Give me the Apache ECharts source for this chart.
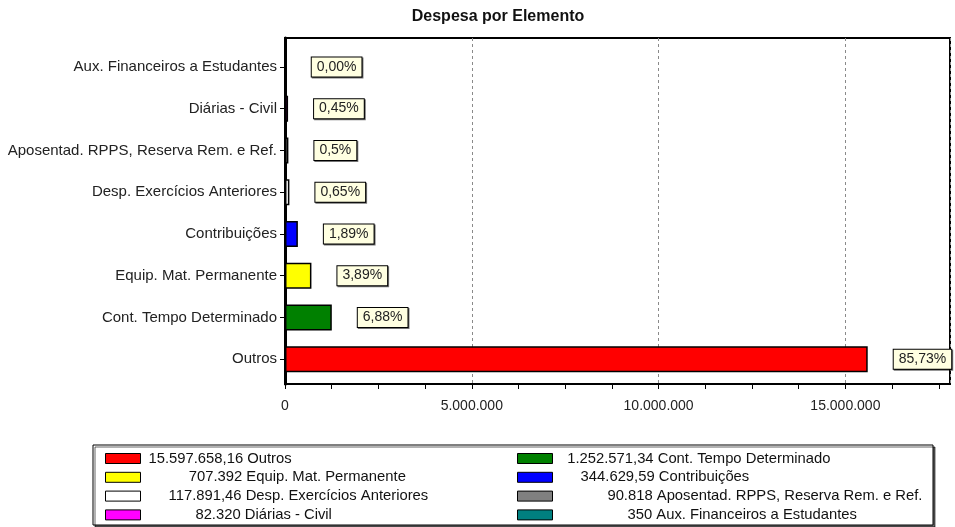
<!DOCTYPE html>
<html>
<head>
<meta charset="utf-8">
<script src="https://cdn.jsdelivr.net/npm/echarts@6/dist/echarts.min.js"></script>
<style>
  html, body { margin: 0; padding: 0; background: #fff; }
  #chart { width: 955px; height: 527px; }
</style>
</head>
<body>
<div id="chart"></div>
<script>
// Expense elements, listed bottom to top on the category axis
const categories = [
  'Outros',
  'Cont. Tempo Determinado',
  'Equip. Mat. Permanente',
  'Contribuições',
  'Desp. Exercícios Anteriores',
  'Aposentad. RPPS, Reserva Rem. e Ref.',
  'Diárias - Civil',
  'Aux. Financeiros a Estudantes'
];
const values = [15597658.16, 1252571.34, 707392, 344629.59, 117891.46, 90818, 82320, 350];
const percentLabels = ['85,73%', '6,88%', '3,89%', '1,89%', '0,65%', '0,5%', '0,45%', '0,00%'];
const colors = ['#ff0000', '#008000', '#ffff00', '#0000ff', '#ffffff', '#808080', '#ff00ff', '#008080'];
const legendLeft = ['Outros', 'Equip. Mat. Permanente', 'Desp. Exercícios Anteriores', 'Diárias - Civil'];
const legendRight = ['Cont. Tempo Determinado', 'Contribuições', 'Aposentad. RPPS, Reserva Rem. e Ref.', 'Aux. Financeiros a Estudantes'];
const axisMax = 17800000;

const FONT = 'Liberation Sans, Arial, sans-serif';
const LEGEND_FONT_SIZE = 14.8;
const VALUE_FIELD = 13;     // legend amounts are padded to this many characters
const PAD_STEP = 6.7;       // width of one padding slot in the legend

// Brazilian number format: 1.234.567,89 (decimals dropped when zero)
function fmtBR(v) {
  const parts = (Math.round(v * 100) / 100).toFixed(2).split('.');
  const intPart = parts[0].replace(/\B(?=(\d{3})+(?!\d))/g, '.');
  return parts[1] === '00' ? intPart : intPart + ',' + parts[1];
}

// rich-text padding tokens p0..p13 for the fixed-width amount field
const padRich = {};
for (let n = 0; n <= VALUE_FIELD; n++) {
  padRich['p' + n] = { width: 3 + n * PAD_STEP, fontFamily: FONT, fontSize: LEGEND_FONT_SIZE };
}

// one stacked series per element so each gets its own colour and legend entry
const series = categories.map((name, i) => ({
  name: name,
  type: 'bar',
  xAxisIndex: 1,
  yAxisIndex: 1,
  stack: 'total',
  barWidth: 26,
  data: categories.map((_, j) => (j === i ? values[i] : '-')),
  itemStyle: { color: colors[i], borderColor: '#000', borderWidth: 1.5 },
  label: {
    show: true,
    position: 'right',
    distance: 26,
    formatter: () => percentLabels[i],
    fontFamily: FONT,
    fontSize: 14,
    color: '#222',
    backgroundColor: '#ffffe1',
    borderColor: '#000',
    borderWidth: 1,
    padding: [2, 5, 2, 5],
    lineHeight: 15,
    shadowColor: 'rgba(0,0,0,0.55)',
    shadowOffsetX: 1,
    shadowOffsetY: 1,
    shadowBlur: 0
  },
  emphasis: { disabled: true },
  animation: false
}));

const legendCommon = {
  orient: 'vertical',
  top: 451,
  padding: 0,
  itemWidth: 35,
  itemHeight: 10,
  itemGap: 3.8,
  icon: 'rect',
  selectedMode: false,
  itemStyle: { borderColor: '#000', borderWidth: 1 },
  formatter: name => {
    const txt = fmtBR(values[categories.indexOf(name)]);
    const pad = Math.max(0, VALUE_FIELD - txt.length);
    return '{p' + pad + '| }' + txt + ' ' + name;
  },
  textStyle: {
    fontFamily: FONT,
    fontSize: LEGEND_FONT_SIZE,
    color: '#111',
    lineHeight: 14,
    rich: padRich
  }
};

const option = {
  backgroundColor: '#fff',
  animation: false,
  title: {
    text: 'Despesa por Elemento',
    left: 498,
    top: 9,
    textAlign: 'center',
    padding: 0,
    textStyle: { fontFamily: FONT, fontSize: 16, fontWeight: 'bold', color: '#111' }
  },
  graphic: [{
    type: 'rect',
    z: 0,
    shape: { x: 93, y: 445, width: 840, height: 80 },
    style: {
      fill: '#fff', stroke: '#000', lineWidth: 1,
      shadowColor: 'rgba(0,0,0,0.6)', shadowOffsetX: 2, shadowOffsetY: 2, shadowBlur: 0
    }
  }],
  legend: [
    Object.assign({}, legendCommon, { left: 105, data: legendLeft }),
    Object.assign({}, legendCommon, { left: 517, data: legendRight })
  ],
  grid: [
    // outer frame, value axis and gridlines
    { left: 285, right: 5, top: 38, bottom: 143, show: true, borderColor: '#000', borderWidth: 2, backgroundColor: '#fff' },
    // category band area for the bars
    { left: 285, right: 5, top: 46, bottom: 147 }
  ],
  xAxis: [
    {
      gridIndex: 0,
      type: 'value',
      min: 0,
      max: axisMax,
      interval: 1250000,
      axisLine: { show: true, onZero: false, lineStyle: { color: '#000', width: 2 } },
      axisTick: { show: true, length: 5, lineStyle: { color: '#000', width: 1 } },
      axisLabel: {
        margin: 15,
        fontFamily: FONT,
        fontSize: 14,
        color: '#222',
        showMaxLabel: false,
        formatter: v => (v % 5000000 === 0 ? fmtBR(v) : '')
      },
      splitLine: { show: false }
    },
    {
      gridIndex: 1,
      type: 'value',
      min: 0,
      max: axisMax,
      show: false
    },
    {
      gridIndex: 0,
      type: 'value',
      position: 'top',
      min: 0,
      max: axisMax,
      interval: 5000000,
      axisLine: { show: false },
      axisTick: { show: false },
      axisLabel: { show: false },
      splitLine: { show: true, lineStyle: { color: '#8a8a8a', width: 1, type: [3, 3] } }
    }
  ],
  yAxis: [
    {
      gridIndex: 0,
      type: 'value',
      min: 0,
      max: 1,
      axisLine: { show: true, onZero: false, lineStyle: { color: '#000', width: 3 } },
      axisTick: { show: false },
      axisLabel: { show: false },
      splitLine: { show: false }
    },
    {
      gridIndex: 1,
      type: 'category',
      data: categories,
      axisLine: { show: false },
      axisTick: { show: true, alignWithLabel: true, length: 5, lineStyle: { color: '#000', width: 1 } },
      axisLabel: { margin: 8, fontFamily: FONT, fontSize: 15, color: '#222' }
    }
  ],
  series: series
};

const chart = echarts.init(document.getElementById('chart'), null, { renderer: 'canvas' });
chart.setOption(option);
</script>
</body>
</html>
